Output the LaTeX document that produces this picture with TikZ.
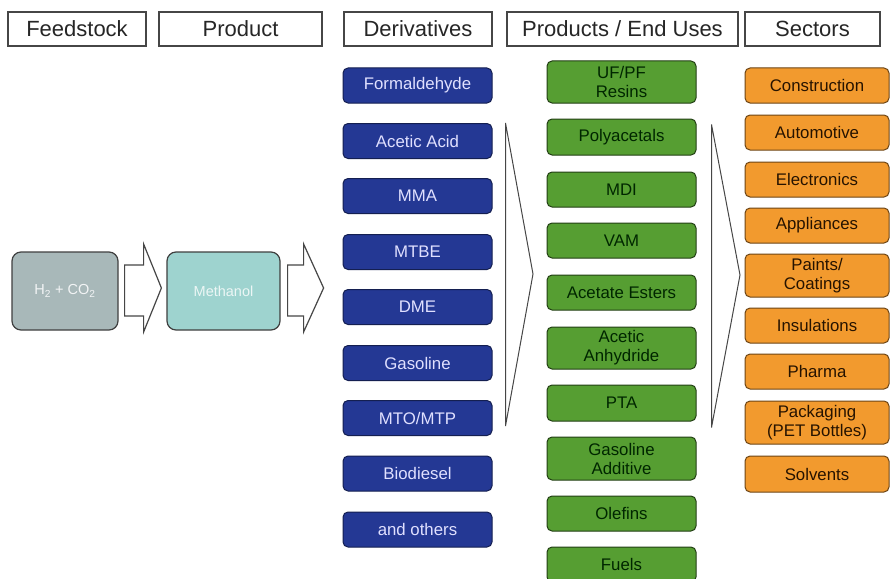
\documentclass[tikz,border=0pt]{standalone}
\usepackage{fontspec}
\setmainfont{Liberation Sans}
\usetikzlibrary{calc}

\definecolor{derivblue}{RGB}{36,56,148}
\definecolor{usegreen}{RGB}{86,158,50}
\definecolor{sectorange}{RGB}{242,154,46}
\definecolor{feedgray}{RGB}{168,184,185}
\definecolor{methteal}{RGB}{158,211,207}
\definecolor{edgegray}{RGB}{70,70,70}

\tikzset{
  headbox/.style={draw=edgegray, line width=1.1pt, fill=white, inner sep=0pt,
    minimum height=34pt, font=\fontsize{22}{24}\selectfont, text=black!85},
  card/.style={rectangle, rounded corners=5pt, line width=1pt, inner sep=0pt,
    align=center, font=\fontsize{16.8}{19}\selectfont},
  deriv/.style={card, fill=derivblue, draw=derivblue!55!black,
    text=white!88!blue, minimum width=149pt, minimum height=35pt},
  enduse/.style={card, fill=usegreen, draw=usegreen!40!black,
    text=black!85!green, minimum width=149pt, minimum height=35pt},
  sector/.style={card, fill=sectorange, draw=sectorange!45!black,
    text=black!85!orange, minimum width=144pt, minimum height=35pt},
  bigbox/.style={card, rounded corners=9pt, line width=1.2pt, draw=black!75,
    minimum height=78pt, font=\fontsize{14.5}{16}\selectfont},
  blockarrow/.style={draw=edgegray, line width=1.2pt, fill=white, line join=miter},
  chevron/.style={draw=edgegray, line width=1pt, fill=white, line join=miter}
}

\begin{document}
\begin{tikzpicture}[x=1pt,y=-1pt]
\useasboundingbox (0,0) rectangle (891,578);
\fill[white] (0,0) rectangle (891,578);

% column headings
\node[headbox, minimum width=138pt] (hfeed) at (77,29) {Feedstock};
\node[headbox, minimum width=163pt] (hprod) at (240.5,29) {Product};
\node[headbox, minimum width=148pt] (hderiv) at (418,29) {Derivatives};
\node[headbox, minimum width=231pt] (huse) at (622.5,29) {Products / End Uses};
\node[headbox, minimum width=135pt] (hsect) at (812.5,29) {Sectors};

% feedstock and product
\node[bigbox, fill=feedgray, text=white!85!feedgray, minimum width=106pt]
  (feed) at (65,291) {H\textsubscript{2} + CO\textsubscript{2}};
\node[bigbox, fill=methteal, text=white!80!methteal, minimum width=113pt]
  (meth) at (223.5,291) {Methanol};

% hollow block arrows
\draw[blockarrow] ($(feed.east)+(6,-26)$) -- ++(19,0) -- ++(0,-21) -- ($(meth.west)+(-5,-3)$)
  -- ($(feed.east)+(25,41)$) -- ++(0,-16) -- ($(feed.east)+(6,25)$) -- cycle;
\draw[blockarrow] ($(meth.east)+(7,-26)$) -- ++(16,0) -- ++(0,-21) -- ($(meth.east)+(43,-3)$)
  -- ($(meth.east)+(23,41)$) -- ++(0,-16) -- ($(meth.east)+(7,25)$) -- cycle;

% derivatives
\node[deriv] (d1) at (417.5,85.5) {Formaldehyde};
\node[deriv] (d2) at (417.5,141) {Acetic Acid};
\node[deriv] (d3) at (417.5,196) {MMA};
\node[deriv] (d4) at (417.5,252) {MTBE};
\node[deriv] (d5) at (417.5,307) {DME};
\node[deriv] (d6) at (417.5,363) {Gasoline};
\node[deriv] (d7) at (417.5,418) {MTO/MTP};
\node[deriv] (d8) at (417.5,473.5) {Biodiesel};
\node[deriv] (d9) at (417.5,529.5) {and others};

% products and end uses
\node[enduse, minimum height=42pt] (e1) at (621.5,82) {UF/PF\\Resins};
\node[enduse, minimum height=36pt] (e2) at (621.5,137) {Polyacetals};
\node[enduse] (e3) at (621.5,189.5) {MDI};
\node[enduse] (e4) at (621.5,240.5) {VAM};
\node[enduse] (e5) at (621.5,292.5) {Acetate Esters};
\node[enduse, minimum height=42pt] (e6) at (621.5,348) {Acetic\\Anhydride};
\node[enduse, minimum height=36pt] (e7) at (621.5,403) {PTA};
\node[enduse, minimum height=43pt] (e8) at (621.5,458.5) {Gasoline\\Additive};
\node[enduse] (e9) at (621.5,513.5) {Olefins};
\node[enduse] (e10) at (621.5,564.5) {Fuels};

% sectors
\node[sector] (s1) at (817,85.5) {Construction};
\node[sector] (s2) at (817,132.5) {Automotive};
\node[sector] (s3) at (817,179.5) {Electronics};
\node[sector] (s4) at (817,225.5) {Appliances};
\node[sector, minimum height=43pt] (s5) at (817,275.5) {Paints/\\Coatings};
\node[sector] (s6) at (817,325.5) {Insulations};
\node[sector] (s7) at (817,371.5) {Pharma};
\node[sector, minimum height=43pt] (s8) at (817,422.5) {Packaging\\(PET Bottles)};
\node[sector, minimum height=36pt] (s9) at (817,474) {Solvents};

% chevrons between the columns
\coordinate (c1top) at ($(d2.north east)+(13,0)$);
\coordinate (c1tip) at (533,274);
\coordinate (c1bot) at ($(d7.south east)+(13,-10)$);
\draw[chevron] (c1top) -- (c1tip) -- (c1bot) -- cycle;

\coordinate (c2top) at ($(e2.north east)+(15,6)$);
\coordinate (c2tip) at (740,275);
\coordinate (c2bot) at ($(e7.south east)+(15,6)$);
\draw[chevron] (c2top) -- (c2tip) -- (c2bot) -- cycle;
\end{tikzpicture}
\end{document}
